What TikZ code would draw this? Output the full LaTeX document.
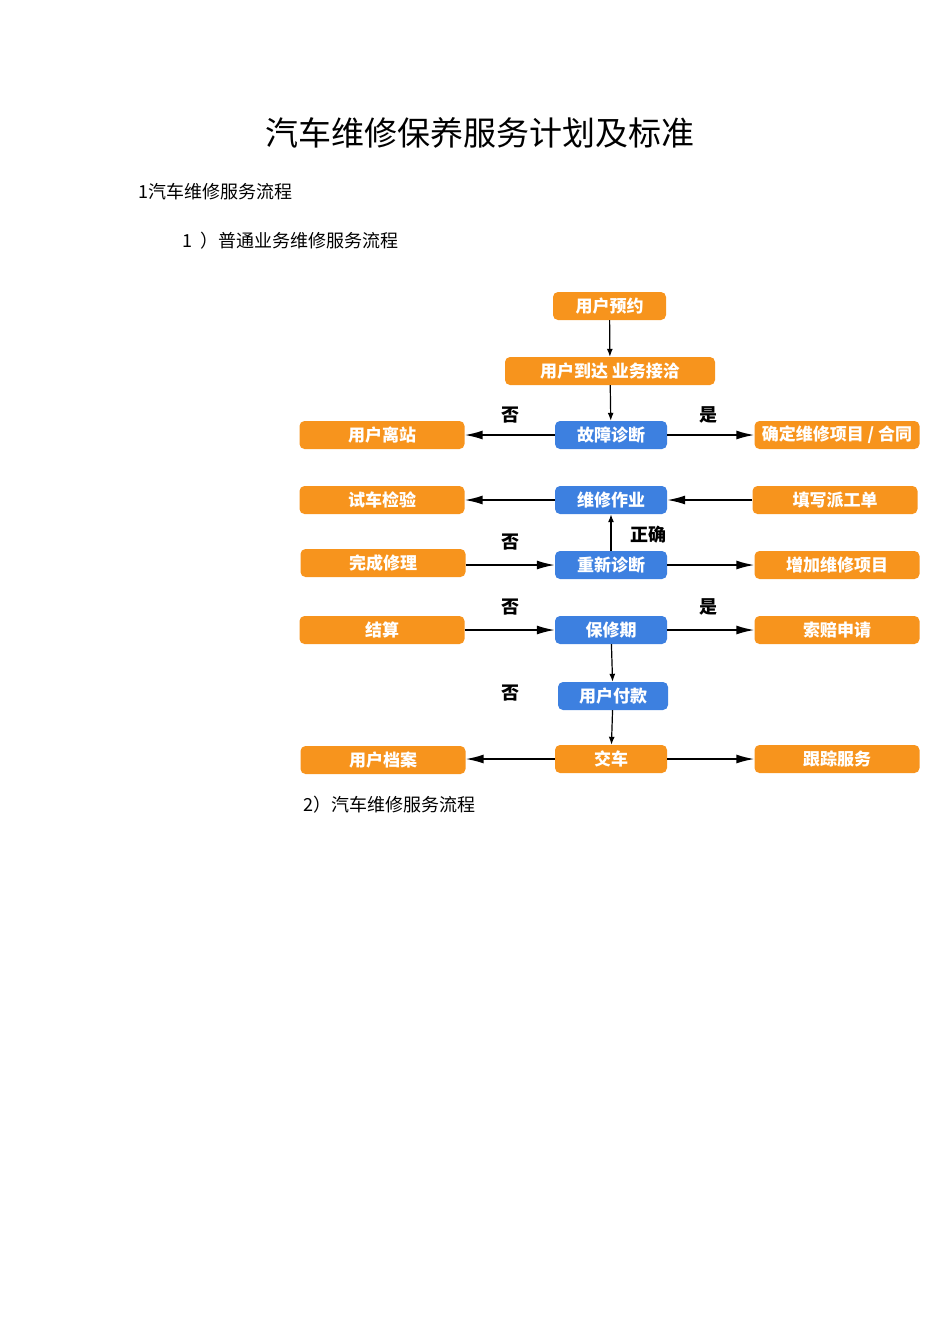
\documentclass[tikz,border=0pt]{standalone}
\usepackage{fontspec}
\newfontfamily\cjk{Noto Sans CJK SC}
\usetikzlibrary{arrows.meta}
\definecolor{org}{HTML}{F7941D}
\definecolor{blu}{HTML}{3D80E0}
\tikzset{
 ob/.style={fill=org,rounded corners=5pt,minimum height=28pt,text=white,font=\cjk\bfseries\fontsize{17}{17}\selectfont,inner sep=0pt},
 bb/.style={ob,fill=blu},
 lab/.style={font=\cjk\bfseries\fontsize{18}{18}\selectfont},
 ar/.style={line width=1.6pt,-{Latex[length=18pt,width=9pt]}},
 va/.style={line width=1.2pt,-{Latex[length=8pt,width=6pt]}},
 tx/.style={anchor=west,font=\cjk\fontsize{18}{18}\selectfont,inner sep=0pt}
}
\begin{document}
\begin{tikzpicture}[x=1pt,y=-1pt]
\useasboundingbox (0,0) rectangle (950,1344);
\node[font=\cjk\fontsize{33}{33}\selectfont] (title) at (480,133) {汽车维修保养服务计划及标准};
\node[tx] (h1) at (138,192) {1汽车维修服务流程};
\node[tx] (h2) at (182,241) {1\ \ ）普通业务维修服务流程};
\node[tx] (h3) at (303,805) {2）汽车维修服务流程};

\node[ob,minimum width=113pt] (a) at (609.5,306) {用户预约};
\node[ob,minimum width=210pt] (b) at (610,371) {用户到达 业务接洽};
\node[bb,minimum width=112pt] (c) at (611,435) {故障诊断};
\node[ob,minimum width=165pt] (cl) at (382,435) {用户离站};
\node[ob,minimum width=165pt] (cr) at (837,435) {确定维修项目 / 合同};
\node[bb,minimum width=112pt] (d) at (611,500) {维修作业};
\node[ob,minimum width=165pt] (dl) at (382,500) {试车检验};
\node[ob,minimum width=165pt] (dr) at (835,500) {填写派工单};
\node[bb,minimum width=112pt] (e) at (611,565) {重新诊断};
\node[ob,minimum width=165pt] (el) at (383,563) {完成修理};
\node[ob,minimum width=165pt] (er) at (837,565) {增加维修项目};
\node[bb,minimum width=112pt] (f) at (611,630) {保修期};
\node[ob,minimum width=165pt] (fl) at (382,630) {结算};
\node[ob,minimum width=165pt] (fr) at (837,630) {索赔申请};
\node[bb,minimum width=110pt] (g) at (613,696) {用户付款};
\node[ob,minimum width=112pt] (h) at (611,759) {交车};
\node[ob,minimum width=165pt] (hl) at (383,760) {用户档案};
\node[ob,minimum width=165pt] (hr) at (837,759) {跟踪服务};

\node[lab] (n1) at (510,415) {否};
\node[lab] (y1) at (708,415) {是};
\node[lab] (ok) at (648,535) {正确};
\node[lab] (n2) at (510,542) {否};
\node[lab] (n3) at (510,607) {否};
\node[lab] (y2) at (708,607) {是};
\node[lab] (n4) at (510,693) {否};

\draw[va] (a) -- (b);
\draw[va] (b) -- (c);
\draw[ar] (c) -- (cl);
\draw[ar] (c) -- (cr);
\draw[ar] (d) -- (dl);
\draw[ar] (dr) -- (d);
\draw[va] (e) -- (d);
\draw[ar] (el.east|-e) -- (e);
\draw[ar] (e) -- (er);
\draw[ar] (fl) -- (f);
\draw[ar] (f) -- (fr);
\draw[va] (f) -- (g);
\draw[va] (g) -- (h);
\draw[ar] (h) -- (hl.east|-h);
\draw[ar] (h) -- (hr);
\end{tikzpicture}
\end{document}
